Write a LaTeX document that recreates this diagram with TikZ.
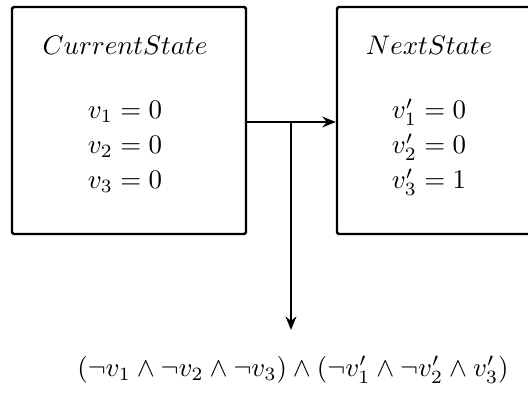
\documentclass[tikz,border=0pt]{standalone}
\usetikzlibrary{arrows.meta}
\begin{document}
\begin{tikzpicture}[x=0.372pt,y=-0.372pt,
  statebox/.style={draw,line width=0.9pt,rounded corners=0.6pt,inner sep=0pt},
  conn/.style={line width=0.9pt},
  arr/.style={conn,-{Stealth[length=5pt,width=4pt]}},
  lbl/.style={inner sep=0pt,anchor=center}]
\useasboundingbox (0,0) rectangle (528,398);
\node[statebox,minimum width=234*0.372pt,minimum height=227*0.372pt] (cur) at (129,120.5) {};
\node[statebox,minimum width=204*0.372pt,minimum height=227*0.372pt] (nxt) at (439,120.5) {};
\node[lbl] (curname) at (125,45) {$CurrentState$};
\node[lbl] (c1) at (125,112) {$v_1 = 0$};
\node[lbl] (c2) at (125,147) {$v_2 = 0$};
\node[lbl] (c3) at (125,182) {$v_3 = 0$};
\node[lbl] (nxtname) at (429,45) {$NextState$};
\node[lbl] (n1) at (429,112) {$v_1' = 0$};
\node[lbl] (n2) at (429,147) {$v_2' = 0$};
\node[lbl] (n3) at (429,182) {$v_3' = 1$};
\node[lbl] (formula) at (293,370) {$(\neg v_1 \wedge \neg v_2 \wedge \neg v_3) \wedge (\neg v_1' \wedge \neg v_2' \wedge v_3')$};
\coordinate (j) at (291,122);
\coordinate (e) at (291,330);
\draw[conn] (cur.east |- j) -- (j);
\draw[arr] (j) -- (nxt.west |- j);
\draw[arr] (j) -- (e);
\end{tikzpicture}
\end{document}
